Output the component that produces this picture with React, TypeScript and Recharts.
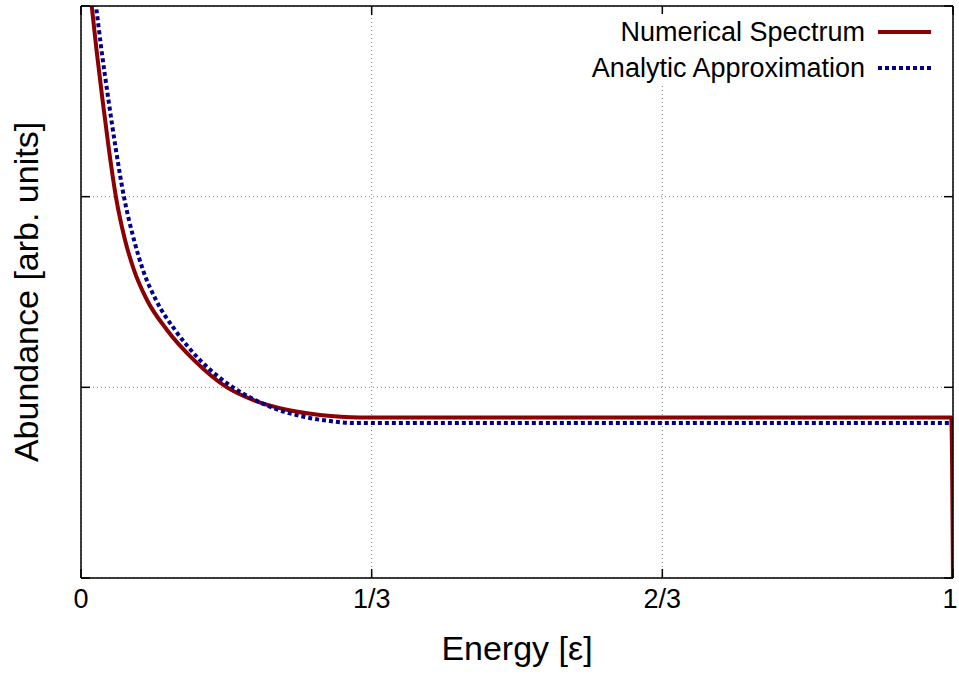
import { LineChart, Line, XAxis, YAxis, CartesianGrid, Legend } from 'recharts';

// axis ticks
const xTicks = [0, 1 / 3, 2 / 3, 1];
const xTickLabels = ['0', '1/3', '2/3', '1'];
const yTicks = [0, 1, 2, 3];

const seriesNames = ['Numerical Spectrum', 'Analytic Approximation'];

// numerical spectrum
const numericalX = [0.0052, 0.0123, 0.0178, 0.0247, 0.0321, 0.0401, 0.0505, 0.0608, 0.0757, 0.0986, 0.1296, 0.1674, 0.1972, 0.2374, 0.2741, 0.32, 0.998, 1.0];
const numericalY = [3.346, 3.0, 2.769, 2.507, 2.245, 1.998, 1.773, 1.615, 1.458, 1.301, 1.143, 1.0, 0.934, 0.881, 0.855, 0.842, 0.842, 0];

// analytic approximation
const analyticX = [0.0073, 0.0172, 0.0235, 0.0315, 0.0401, 0.0493, 0.0608, 0.0711, 0.086, 0.1078, 0.1365, 0.1743, 0.1995, 0.2271, 0.2569, 0.2856, 0.3142, 1.0];
const analyticY = [3.346, 3.0, 2.769, 2.507, 2.245, 1.998, 1.773, 1.615, 1.458, 1.301, 1.143, 1.0, 0.934, 0.881, 0.844, 0.823, 0.813, 0.813];

const numericalData = numericalX.map((x, i) => ({ x, y: numericalY[i] }));
const analyticData = analyticX.map((x, i) => ({ x, y: analyticY[i] }));

const FONT = '"Liberation Sans", Arial, Helvetica, sans-serif';
const TICK_LEN = 9;

// gnuplot style ticks: pointing inward, labels only on the bottom
const BottomTick = ({ x, y, index }: any) => (
  <g>
    <line x1={x} y1={y} x2={x} y2={y - TICK_LEN} stroke="#000" strokeWidth={1.5} />
    <text x={Math.min(x, 950)} y={y + 30} textAnchor="middle" fontSize={27} fill="#000" fontFamily={FONT}>
      {xTickLabels[index]}
    </text>
  </g>
);
const TopTick = ({ x, y }: any) => <line x1={x} y1={y} x2={x} y2={y + TICK_LEN} stroke="#000" strokeWidth={1.5} />;
const LeftTick = ({ x, y }: any) => <line x1={x} y1={y} x2={x + TICK_LEN} y2={y} stroke="#000" strokeWidth={1.5} />;
const RightTick = ({ x, y }: any) => <line x1={x - TICK_LEN} y1={y} x2={x} y2={y} stroke="#000" strokeWidth={1.5} />;

const YTitle = ({ viewBox }: any) => {
  const cx = viewBox.x + viewBox.width - 43;
  const cy = viewBox.y + viewBox.height / 2;
  return (
    <text x={cx} y={cy} transform={`rotate(-90 ${cx} ${cy})`} textAnchor="middle" fontSize={34} fill="#000" fontFamily={FONT}>
      Abundance [arb. units]
    </text>
  );
};

const KeyBox = ({ payload }: any) => {
  const items = [...(payload || [])].sort((a: any, b: any) => seriesNames.indexOf(a.value) - seriesNames.indexOf(b.value));
  return (
    <div style={{ background: '#fff', fontFamily: FONT, paddingLeft: 6 }}>
      {items.map((entry: any) => (
        <div key={entry.value} style={{ display: 'flex', justifyContent: 'flex-end', alignItems: 'center', height: 36 }}>
          <span style={{ fontSize: 27, color: '#000', marginRight: 13 }}>{entry.value}</span>
          <svg width={53} height={10}>
            <line x1={0} y1={5} x2={53} y2={5} stroke={entry.color} strokeWidth={4} strokeDasharray={entry.payload?.strokeDasharray} />
          </svg>
        </div>
      ))}
    </div>
  );
};

export default function App() {
  return (
    <div style={{ position: 'absolute', left: 0, top: 0, background: '#fff' }}>
      <LineChart width={959} height={675} margin={{ top: 5, right: 5, bottom: 96, left: 80 }} style={{ fontFamily: FONT }}>
        <CartesianGrid xAxisId="b" yAxisId="l" stroke="#808080" strokeDasharray="1 3" strokeWidth={1} />
        <Line
          xAxisId="b"
          yAxisId="l"
          data={numericalData}
          dataKey="y"
          name={seriesNames[0]}
          type="monotone"
          stroke="#8b0000"
          strokeWidth={4}
          dot={false}
          activeDot={false}
          isAnimationActive={false}
        />
        <Line
          xAxisId="b"
          yAxisId="l"
          data={analyticData}
          dataKey="y"
          name={seriesNames[1]}
          type="monotone"
          stroke="#00008b"
          strokeWidth={4}
          strokeDasharray="4 3"
          dot={false}
          activeDot={false}
          isAnimationActive={false}
        />
        <XAxis
          xAxisId="b"
          type="number"
          dataKey="x"
          domain={[0, 1]}
          allowDataOverflow
          ticks={xTicks}
          interval={0}
          height={1}
          tickSize={0}
          tickMargin={0}
          tick={BottomTick}
          axisLine={{ stroke: '#000', strokeWidth: 1.5 }}
          label={{ value: 'Energy [ε]', position: 'bottom', offset: 57, fontSize: 34, fill: '#000', fontFamily: FONT }}
        />
        <XAxis
          xAxisId="t"
          orientation="top"
          type="number"
          dataKey="x"
          domain={[0, 1]}
          allowDataOverflow
          ticks={xTicks}
          interval={0}
          height={1}
          tickSize={0}
          tickMargin={0}
          tick={TopTick}
          axisLine={{ stroke: '#000', strokeWidth: 1.5 }}
        />
        <YAxis
          yAxisId="l"
          type="number"
          domain={[0, 3]}
          allowDataOverflow
          ticks={yTicks}
          interval={0}
          width={1}
          tickSize={0}
          tickMargin={0}
          tick={LeftTick}
          axisLine={{ stroke: '#000', strokeWidth: 1.5 }}
          label={<YTitle />}
        />
        <YAxis
          yAxisId="r"
          orientation="right"
          type="number"
          domain={[0, 3]}
          allowDataOverflow
          ticks={yTicks}
          interval={0}
          width={1}
          tickSize={0}
          tickMargin={0}
          tick={RightTick}
          axisLine={{ stroke: '#000', strokeWidth: 1.5 }}
        />
        <Legend
          layout="horizontal"
          align="center"
          verticalAlign="middle"
          content={<KeyBox />}
          wrapperStyle={{ top: 14, right: 28, left: 'auto', width: 'auto', height: 'auto' }}
        />
      </LineChart>
    </div>
  );
}
